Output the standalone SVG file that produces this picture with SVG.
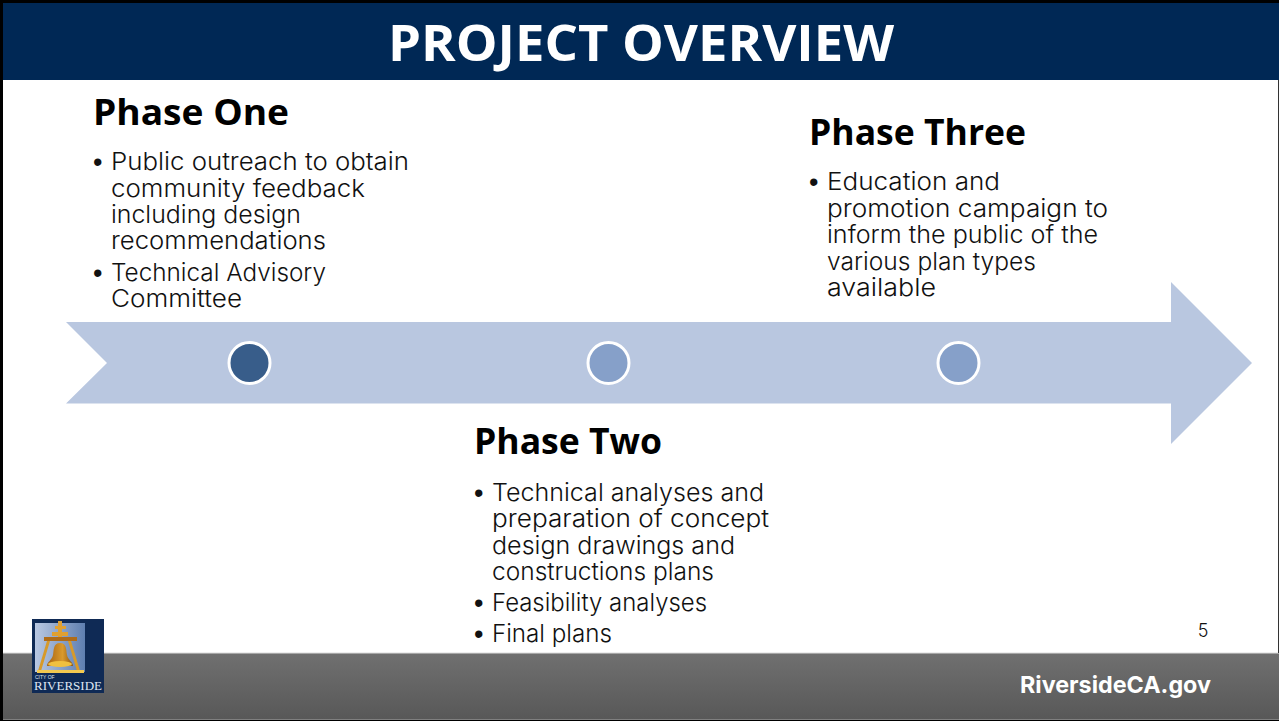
<svg xmlns="http://www.w3.org/2000/svg" width="1279" height="721" viewBox="0 0 1279 721">
<style>
.h{font-family:"Open Sans","Liberation Sans",sans-serif;font-weight:700;font-size:35px;fill:#000}
.b{font-family:"Inter","Liberation Sans",sans-serif;font-size:24px;font-weight:300;fill:#111}
.d{font-family:"Liberation Sans",sans-serif;font-size:27px;fill:#111}
.c{stroke:#fff;stroke-width:3}
</style>
<defs>
<linearGradient id="f" x1="0" y1="0" x2="0" y2="1"><stop offset="0" stop-color="#707070"/><stop offset="1" stop-color="#585858"/></linearGradient>
<linearGradient id="sky" x1="0" y1="0" x2="1" y2="0"><stop offset="0" stop-color="#b9c8e2"/><stop offset="1" stop-color="#5f7fb0"/></linearGradient>
<linearGradient id="bell" x1="0" y1="0" x2="1" y2="0"><stop offset="0" stop-color="#a8620f"/><stop offset="0.6" stop-color="#d99a2e"/><stop offset="1" stop-color="#8f5510"/></linearGradient>
</defs>
<rect width="1279" height="721" fill="#fff"/>
<g id="header"><rect x="2" y="3" width="1277" height="77" fill="#002855"/>
<text x="641" y="61" text-anchor="middle" font-family="Open Sans,Liberation Sans,sans-serif" font-weight="700" font-size="50" fill="#fff" textLength="506" lengthAdjust="spacingAndGlyphs">PROJECT OVERVIEW</text></g>
<g id="footer"><rect x="3" y="653" width="1276" height="66" fill="url(#f)"/><rect x="3" y="652.500" width="1276" height="1" fill="#ddd"/>
<text x="1211" y="693" text-anchor="end" font-family="Inter,Liberation Sans,sans-serif" font-weight="700" font-size="23.500" fill="#fff" textLength="191" lengthAdjust="spacingAndGlyphs">RiversideCA.gov</text></g>
<g id="frame" fill="#000"><rect width="1279" height="3"/><rect width="3" height="721"/><rect y="719.500" width="1279" height="1.500"/><rect x="1278" y="80" width="1" height="573" fill="#333"/></g>
<g id="logo">
<rect x="32" y="619" width="72" height="74" fill="#0f2a55"/><rect x="35" y="623" width="50" height="49" fill="url(#sky)"/>
<g fill="#e0a030"><rect x="58" y="621" width="4" height="17"/><rect x="55" y="626" width="11" height="3"/><rect x="52" y="632" width="16" height="4"/></g>
<rect x="44" y="637" width="33" height="4" fill="#b06c18"/>
<path d="M47 641L38 671H41L50 641ZM71 641L80 671H77L68 641Z" fill="#d79a2a"/>
<path d="M60 643C53 643 54 650 53 655C52 660 47 662 47 666H73C73 662 68 660 67 655C66 650 67 643 60 643Z" fill="url(#bell)"/>
<ellipse cx="60" cy="664" rx="12" ry="3" fill="#f0c040"/>
<rect x="37" y="670" width="47" height="3" fill="#f3c94f"/>
<text x="35" y="679" font-family="Liberation Sans,sans-serif" font-size="5" fill="#dfe6f2">CITY OF</text>
<text x="34" y="690" font-family="Liberation Serif,serif" font-size="12" fill="#dfe6f2" textLength="68" lengthAdjust="spacingAndGlyphs">RIVERSIDE</text>
</g>
<g id="timeline"><path d="M66 322H1171V282L1252 363L1171 444V403.500H66L107 363Z" fill="#b9c7e0"/></g>
<g id="marker-1"><circle class="c" cx="249.500" cy="363" r="20.500" fill="#385d8a"/></g>
<g id="marker-2"><circle class="c" cx="608.500" cy="363" r="20.500" fill="#86a0c9"/></g>
<g id="marker-3"><circle class="c" cx="958.500" cy="363" r="20.500" fill="#86a0c9"/></g>
<g id="phase-one">
<text class="h" x="93" y="125" textLength="196" lengthAdjust="spacingAndGlyphs">Phase One</text>
<text class="d" x="93" y="171">•</text><text class="b" x="111" y="170" textLength="298" lengthAdjust="spacingAndGlyphs">Public outreach to obtain</text>
<text class="b" x="111" y="197" textLength="254" lengthAdjust="spacingAndGlyphs">community feedback</text>
<text class="b" x="111" y="223" textLength="190" lengthAdjust="spacingAndGlyphs">including design</text>
<text class="b" x="111" y="249" textLength="215" lengthAdjust="spacingAndGlyphs">recommendations</text>
<text class="d" x="93" y="282">•</text><text class="b" x="111" y="281" textLength="215" lengthAdjust="spacingAndGlyphs">Technical Advisory</text>
<text class="b" x="111" y="307" textLength="131" lengthAdjust="spacingAndGlyphs">Committee</text>
</g>
<g id="phase-two">
<text class="h" x="474" y="454" textLength="188" lengthAdjust="spacingAndGlyphs">Phase Two</text>
<text class="d" x="474" y="502">•</text><text class="b" x="492" y="501" textLength="272" lengthAdjust="spacingAndGlyphs">Technical analyses and</text>
<text class="b" x="492" y="527" textLength="277" lengthAdjust="spacingAndGlyphs">preparation of concept</text>
<text class="b" x="492" y="554" textLength="243" lengthAdjust="spacingAndGlyphs">design drawings and</text>
<text class="b" x="492" y="580" textLength="222" lengthAdjust="spacingAndGlyphs">constructions plans</text>
<text class="d" x="474" y="612">•</text><text class="b" x="492" y="611" textLength="215" lengthAdjust="spacingAndGlyphs">Feasibility analyses</text>
<text class="d" x="474" y="643">•</text><text class="b" x="492" y="642" textLength="120" lengthAdjust="spacingAndGlyphs">Final plans</text>
</g>
<g id="phase-three">
<text class="h" x="809" y="145" textLength="217" lengthAdjust="spacingAndGlyphs">Phase Three</text>
<text class="d" x="809" y="191">•</text><text class="b" x="827" y="190" textLength="173" lengthAdjust="spacingAndGlyphs">Education and</text>
<text class="b" x="827" y="217" textLength="281" lengthAdjust="spacingAndGlyphs">promotion campaign to</text>
<text class="b" x="827" y="243" textLength="271" lengthAdjust="spacingAndGlyphs">inform the public of the</text>
<text class="b" x="827" y="270" textLength="209" lengthAdjust="spacingAndGlyphs">various plan types</text>
<text class="b" x="827" y="296" textLength="109" lengthAdjust="spacingAndGlyphs">available</text>
</g>
<text x="1203" y="637" text-anchor="middle" font-family="Inter,Liberation Sans,sans-serif" font-size="18" font-weight="300" fill="#111">5</text>
</svg>
